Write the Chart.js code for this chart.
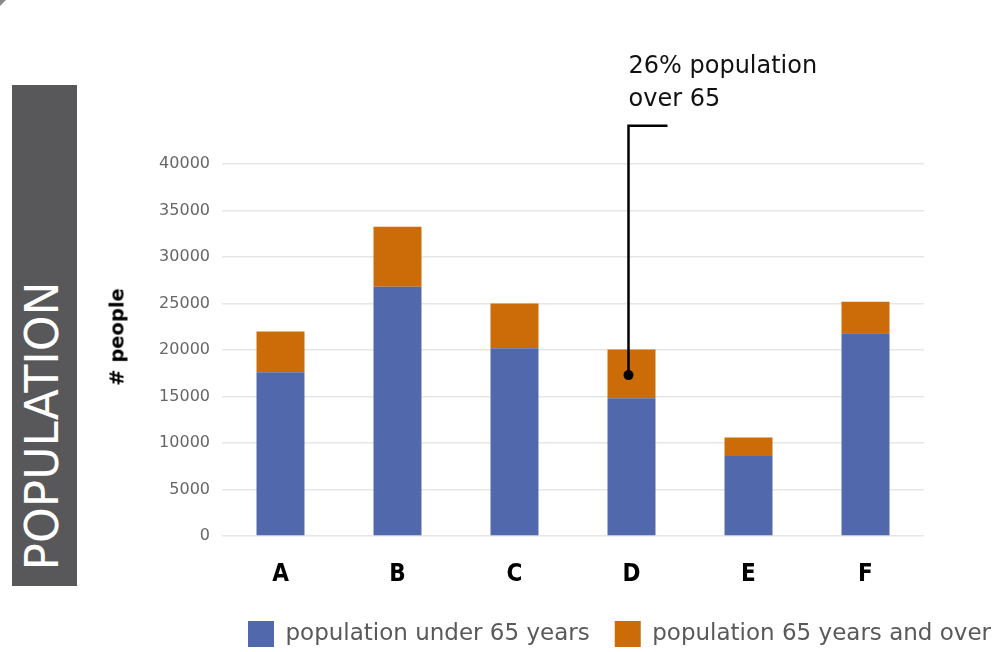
<!DOCTYPE html>
<html>
<head>
<meta charset="utf-8">
<script src="https://cdn.jsdelivr.net/npm/chart.js@4"></script>
<style>
  html, body { margin: 0; padding: 0; background: #fff; overflow: hidden; }
  #wrap { position: relative; width: 996px; height: 652px; overflow: hidden; }
  #pop { position: absolute; }
  .corner { position: absolute; left: 0; top: 0; width: 0; height: 0;
    border-top: 6px solid #8a8a8a; border-right: 6px solid transparent; }
  .banner { position: absolute; left: 12px; top: 85px; width: 65px; height: 501px; background: #58585a; }
  .rot { position: absolute; white-space: nowrap; line-height: 1;
    transform: translate(-50%, -50%) rotate(-90deg); }
  .banner-text { left: 42px; top: 426px; color: #fff; font: 45.5px "DejaVu Sans", sans-serif; }
  .ytitle { left: 117px; top: 337px; color: #000; font: bold 19.5px "DejaVu Sans", sans-serif; }
</style>
</head>
<body>
<div id="wrap">
  <canvas id="pop" width="1016" height="660"></canvas>
  <div class="corner"></div>
  <div class="banner"></div>
  <div class="rot banner-text">POPULATION</div>
  <div class="rot ytitle"># people</div>
</div>
<script>
// values
var categories = ['A', 'B', 'C', 'D', 'E', 'F'];
var under65 = [17600, 26800, 20200, 14800, 8600, 21800];
var over65 = [4400, 6450, 4800, 5250, 2000, 3400];
var seriesNames = ['population under 65 years', 'population 65 years and over'];
var noteLines = ['26% population', 'over 65'];

// callout pointing at bar D
var callout = {
  id: 'callout',
  afterDatasetsDraw: function(chart) {
    var ctx = chart.ctx;
    var xs = chart.scales.x, ys = chart.scales.y;
    var x = xs.getPixelForValue(3) - 3;
    var yTop = ys.getPixelForValue(44100);
    var yDot = ys.getPixelForValue(17300);
    ctx.save();
    ctx.strokeStyle = '#000';
    ctx.lineWidth = 2.5;
    ctx.beginPath();
    ctx.moveTo(x + 39, yTop);
    ctx.lineTo(x, yTop);
    ctx.lineTo(x, yDot);
    ctx.stroke();
    ctx.beginPath();
    ctx.arc(x, yDot, 5, 0, Math.PI * 2);
    ctx.fillStyle = '#000';
    ctx.fill();
    ctx.fillStyle = '#111';
    ctx.font = '24px "DejaVu Sans", sans-serif';
    ctx.textBaseline = 'alphabetic';
    ctx.fillText(noteLines[0], x, yTop - 53);
    ctx.fillText(noteLines[1], x, yTop - 20);
    ctx.restore();
  }
};

var chart = new Chart('pop', {
  type: 'bar',
  data: {
    labels: categories,
    datasets: [
      {
        label: seriesNames[0],
        data: under65,
        backgroundColor: '#5168ad',
        barPercentage: 0.82,
        categoryPercentage: 0.5
      },
      {
        label: seriesNames[1],
        data: over65,
        backgroundColor: '#cb6c08',
        barPercentage: 0.82,
        categoryPercentage: 0.5
      }
    ]
  },
  options: {
    responsive: false,
    animation: false,
    layout: { padding: { left: 100, right: 0, top: 164, bottom: 3 } },
    plugins: {
      tooltip: { enabled: false },
      legend: {
        position: 'bottom',
        align: 'end',
        labels: {
          boxWidth: 26,
          boxHeight: 26,
          padding: 25,
          color: '#595959',
          font: { family: '"DejaVu Sans", sans-serif', size: 23 }
        }
      }
    },
    scales: {
      x: {
        stacked: true,
        grid: { display: false, drawTicks: false },
        border: { display: false },
        ticks: {
          color: '#000',
          padding: 24,
          font: { family: '"DejaVu Sans Condensed", sans-serif', weight: 'bold', size: 24 }
        },
        afterFit: function(s) { s.height = 60; }
      },
      y: {
        stacked: true,
        min: 0,
        max: 40000,
        ticks: {
          stepSize: 5000,
          padding: 12,
          color: '#666',
          font: { family: '"DejaVu Sans", sans-serif', size: 16 },
          callback: function(v) { return String(v); }
        },
        grid: { color: '#e6e6e6', lineWidth: 1.5, drawTicks: false },
        border: { display: false },
        afterFit: function(s) { s.width = 122; }
      },
      yr: {
        type: 'linear',
        position: 'right',
        grid: { display: false, drawTicks: false },
        border: { display: false },
        ticks: { display: false },
        afterFit: function(s) { s.width = 92; }
      }
    }
  },
  plugins: [callout]
});
</script>
</body>
</html>
